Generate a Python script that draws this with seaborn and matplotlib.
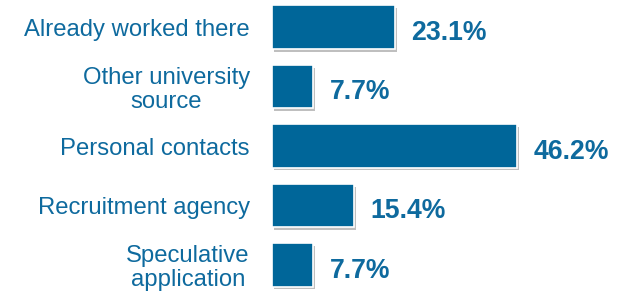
import matplotlib
matplotlib.use("Agg")
import matplotlib.pyplot as plt
import matplotlib.patheffects as pe
import pandas as pd
import seaborn as sns

# data
categories = [
    "Already worked there",
    "Other university\nsource",
    "Personal contacts",
    "Recruitment agency",
    "Speculative\napplication",
]
shares = [23.1, 7.7, 46.2, 15.4, 7.7]
value_labels = ["23.1%", "7.7%", "46.2%", "15.4%", "7.7%"]

bar_color = "#006699"
text_color = "#0E6A9E"

sns.set_style("white")
plt.rcParams["font.family"] = ["Liberation Sans", "DejaVu Sans"]

df = pd.DataFrame({"source": categories, "share": shares})

fig = plt.figure(figsize=(6.2, 2.91), dpi=100)
ax = fig.add_axes([272 / 620, 0, 1 - 272 / 620, 1])

sns.barplot(data=df, x="share", y="source", orient="h", color=bar_color,
            saturation=1, width=0.73, edgecolor="white", linewidth=1.2, ax=ax)

# soft drop shadow like the original
for patch in ax.patches:
    patch.set_path_effects([
        pe.SimplePatchShadow(offset=(1.5, -2), shadow_rgbFace="0.45", alpha=0.45),
        pe.Normal(),
    ])

for i, (v, t) in enumerate(zip(shares, value_labels)):
    ax.annotate(t, xy=(v, i), xytext=(12, -4), textcoords="offset points",
                ha="left", va="center", fontsize=19.2, fontweight="bold",
                color=text_color)

ax.set_xlim(0, 65.6)
ax.set_ylim(4.437, -0.454)
ax.set_xticks([])
ax.set_xlabel("")
ax.set_ylabel("")
ax.tick_params(axis="y", length=0, pad=16, labelsize=17.2, labelcolor=text_color)
for lbl in ax.get_yticklabels():
    lbl.set_multialignment("center")
    lbl.set_linespacing(1.1)
sns.despine(ax=ax, left=True, bottom=True)

fig.savefig("out.png", dpi=100)
